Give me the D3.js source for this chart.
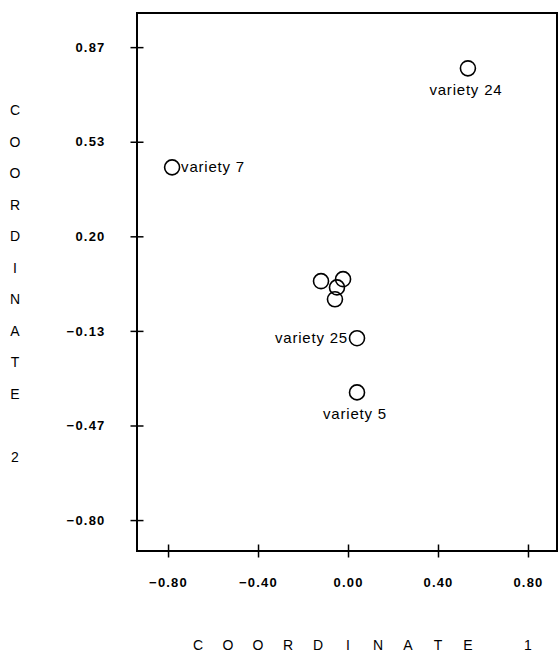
<!DOCTYPE html>
<html>
  <head>
    <meta charset="UTF-8" />
    <title>Coordinate plot</title>
    <script src="https://cdn.jsdelivr.net/npm/d3@7"></script>
    <style>
      body { margin: 0; background: #fff; }
      text { font-family: "Liberation Sans", Arial, sans-serif; fill: #000; }
    </style>
  </head>
  <body>
    <script>
      // values
      var names = ["variety 24", "variety 7", "", "", "", "", "variety 25", "variety 5"];
      var coord1 = [0.533, -0.782, -0.120, -0.022, -0.049, -0.058, 0.040, 0.040];
      var coord2 = [0.792, 0.443, 0.042, 0.049, 0.020, -0.022, -0.159, -0.350];
      var labelSide = ["below", "right", "", "", "", "", "left", "below"];

      var xTicks = [-0.8, -0.4, 0.0, 0.4, 0.8];
      var xTickLabels = ["\u22120.80", "\u22120.40", "0.00", "0.40", "0.80"];
      var yTicks = [0.8667, 0.5333, 0.2, -0.1333, -0.4667, -0.8];
      var yTickLabels = ["0.87", "0.53", "0.20", "\u22120.13", "\u22120.47", "\u22120.80"];

      var width = 559, height = 656;
      var mLeft = 137, mRight = 557, mTop = 13, mBottom = 551;

      var svg = d3.select("body").append("svg")
        .attr("width", width)
        .attr("height", height);

      var x = d3.scaleLinear().domain([-0.938, 0.929]).range([mLeft, mRight]);
      var y = d3.scaleLinear().domain([-0.909, 0.987]).range([mBottom, mTop]);

      // frame
      svg.append("rect")
        .attr("x", mLeft).attr("y", mTop)
        .attr("width", mRight - mLeft).attr("height", mBottom - mTop)
        .attr("fill", "none").attr("stroke", "#000").attr("stroke-width", 2);

      // y axis
      var yAxis = svg.append("g")
        .attr("transform", "translate(" + mLeft + ",0)")
        .call(d3.axisLeft(y).tickValues(yTicks)
          .tickFormat(function (d, i) { return yTickLabels[i]; })
          .tickSize(6.5).tickPadding(25));
      yAxis.select(".domain").remove();
      yAxis.selectAll(".tick line").attr("x1", 6.5).attr("stroke", "#000").attr("stroke-width", 1.5);
      yAxis.selectAll(".tick text")
        .attr("font-size", 13).attr("font-weight", "bold")
        .attr("letter-spacing", 1.2)
        .attr("font-family", "Liberation Sans, Arial, sans-serif");

      // x axis
      var xAxis = svg.append("g")
        .attr("transform", "translate(0," + mBottom + ")")
        .call(d3.axisBottom(x).tickValues(xTicks)
          .tickFormat(function (d, i) { return xTickLabels[i]; })
          .tickSize(6.5).tickPadding(20));
      xAxis.select(".domain").remove();
      xAxis.selectAll(".tick line").attr("y1", -6.5).attr("stroke", "#000").attr("stroke-width", 1.5);
      xAxis.selectAll(".tick text")
        .attr("font-size", 13).attr("font-weight", "bold")
        .attr("letter-spacing", 1.2)
        .attr("font-family", "Liberation Sans, Arial, sans-serif");

      // points
      var pts = names.map(function (n, i) {
        return { name: n, c1: coord1[i], c2: coord2[i], side: labelSide[i] };
      });

      svg.selectAll("circle.pt").data(pts).enter().append("circle")
        .attr("class", "pt")
        .attr("cx", function (d) { return x(d.c1); })
        .attr("cy", function (d) { return y(d.c2); })
        .attr("r", 7.5)
        .attr("fill", "none")
        .attr("stroke", "#000")
        .attr("stroke-width", 1.6);

      svg.selectAll("text.lbl").data(pts.filter(function (d) { return d.name; }))
        .enter().append("text")
        .attr("class", "lbl")
        .attr("font-size", 15)
        .attr("letter-spacing", 0.8)
        .attr("x", function (d) {
          if (d.side == "right") return x(d.c1) + 9;
          if (d.side == "left") return x(d.c1) - 9;
          return x(d.c1) - 2;
        })
        .attr("y", function (d) {
          if (d.side == "below") return y(d.c2) + 27;
          return y(d.c2) + 5;
        })
        .attr("text-anchor", function (d) {
          if (d.side == "right") return "start";
          if (d.side == "left") return "end";
          return "middle";
        })
        .text(function (d) { return d.name; });

      // axis titles, spaced letters
      var xTitle = "COORDINATE 1".split("");
      svg.selectAll("text.xt").data(xTitle).enter().append("text")
        .attr("class", "xt")
        .attr("font-size", 14)
        .attr("text-anchor", "middle")
        .attr("x", function (d, i) { return 198 + i * 30; })
        .attr("y", 650)
        .text(function (d) { return d; });

      var yTitle = "COORDINATE 2".split("");
      svg.selectAll("text.yt").data(yTitle).enter().append("text")
        .attr("class", "yt")
        .attr("font-size", 14)
        .attr("text-anchor", "middle")
        .attr("x", 15)
        .attr("y", function (d, i) { return 115 + i * 31.5; })
        .text(function (d) { return d; });
    </script>
  </body>
</html>
